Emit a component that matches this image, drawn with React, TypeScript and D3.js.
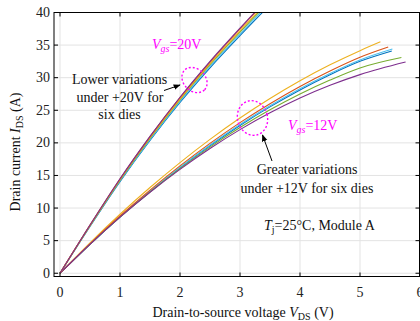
import React from "react";
import * as d3 from "d3";

// ---------- data ----------
const xTicks = [0, 1, 2, 3, 4, 5, 6];
const yTicks = [0, 5, 10, 15, 20, 25, 30, 35, 40];

const dieColors = ["#0072BD", "#4DBEEE", "#77AC30", "#EDB120", "#D95319", "#7E2F8E"];

// Vgs = 20 V
const vGrid20 = [0, 0.5, 1, 1.5, 2, 2.5, 3, 3.5];
const i20Blue = [0, 7.18, 14.06, 20.37, 26.2, 31.52, 36.45, 41.2];
const i20LightBlue = [0, 7.22, 14.15, 20.5, 26.36, 31.72, 36.7, 41.5];
const i20Green = [0, 7.28, 14.27, 20.68, 26.6, 32.0, 37.0, 41.8];
const i20Yellow = [0, 7.32, 14.35, 20.78, 26.72, 32.15, 37.2, 42.05];
const i20Orange = [0, 7.38, 14.45, 20.95, 26.93, 32.4, 37.5, 42.4];
const i20Purple = [0, 7.4, 14.5, 21.0, 27.0, 32.5, 37.6, 42.5];

// Vgs = 12 V
const vGrid12 = [0, 0.5, 1, 1.5, 2, 2.5, 3, 3.5, 4, 4.5, 5];
const i12Blue = [0, 4.44, 8.62, 12.52, 16.17, 19.55, 22.67, 25.52, 28.12, 30.45, 32.51];
const i12LightBlue = [0, 4.46, 8.67, 12.6, 16.27, 19.68, 22.81, 25.68, 28.3, 30.64, 32.72];
const i12Green = [0, 4.45, 8.61, 12.47, 16.05, 19.35, 22.35, 25.07, 27.5, 29.64, 31.5];
const i12Yellow = [0, 4.66, 9.05, 13.15, 16.98, 20.54, 23.81, 26.81, 29.54, 31.98, 34.15];
const i12Orange = [0, 4.52, 8.78, 12.76, 16.47, 19.92, 23.1, 26.01, 28.65, 31.02, 33.13];
const i12Purple = [0, 4.45, 8.6, 12.42, 15.94, 19.14, 22.03, 24.61, 26.88, 28.83, 30.47];
const endV12 = [5.53, 5.54, 5.69, 5.34, 5.47, 5.76];
const endI12 = [34.1, 34.4, 33.1, 35.5, 34.7, 32.4];

const series20 = [i20Blue, i20LightBlue, i20Green, i20Yellow, i20Orange, i20Purple];
const series12 = [i12Blue, i12LightBlue, i12Green, i12Yellow, i12Orange, i12Purple];

// ---------- layout ----------
const W = 420;
const H = 321;
const left = 54;
const right = 419.5;
const top = 12.5;
const bottom = 276.5;

const FONT = "'Liberation Serif', 'Times New Roman', serif";
const MAG = "#FF00FF";

export default function App() {
  const x = d3.scaleLinear().domain([-0.1, 6]).range([54, 420]);
  const y = d3.scaleLinear().domain([-0.5, 40]).range([bottom, top]);

  const line = d3
    .line<[number, number]>()
    .x((d) => x(d[0]))
    .y((d) => y(d[1]))
    .curve(d3.curveMonotoneX);

  const pts20 = series20.map((arr) => arr.map((v, i) => [vGrid20[i], v] as [number, number]));
  const pts12 = series12.map((arr, k) => {
    const p = arr.map((v, i) => [vGrid12[i], v] as [number, number]);
    p.push([endV12[k], endI12[k]]);
    return p;
  });

  const tickLen = 4;

  return (
    <svg
      width={W}
      height={H}
      style={{ position: "absolute", left: 0, top: 0, background: "#fff" }}
      fontFamily={FONT}
    >
      <defs>
        <clipPath id="plotclip">
          <rect x={left} y={top} width={right - left} height={bottom - top} />
        </clipPath>
        <marker id="arrowhead" viewBox="0 0 10 10" refX="9" refY="5" markerWidth="7" markerHeight="7" orient="auto-start-reverse">
          <path d="M0,1 L10,5 L0,9 z" fill="#000" />
        </marker>
      </defs>
      <rect x={0} y={0} width={W} height={H} fill="#fff" />

      {/* grid */}
      <g stroke="#e3e3e3" strokeWidth={1}>
        {xTicks.map((t) => (
          <line key={"gx" + t} x1={x(t)} x2={x(t)} y1={top} y2={bottom} />
        ))}
        {yTicks.map((t) => (
          <line key={"gy" + t} x1={left} x2={right} y1={y(t)} y2={y(t)} />
        ))}
      </g>

      {/* curves */}
      <g clipPath="url(#plotclip)" fill="none" strokeWidth={1.1}>
        {pts12.map((p, k) => (
          <path key={"c12" + k} d={line(p) || ""} stroke={dieColors[k]} />
        ))}
        {pts20.map((p, k) => (
          <path key={"c20" + k} d={line(p) || ""} stroke={dieColors[k]} />
        ))}
      </g>

      {/* frame & ticks */}
      <g stroke="#000" strokeWidth={1} fill="none">
        <rect x={left} y={top} width={right - left} height={bottom - top} />
        {xTicks.map((t) => (
          <g key={"tx" + t}>
            <line x1={x(t)} x2={x(t)} y1={bottom} y2={bottom - tickLen} />
            <line x1={x(t)} x2={x(t)} y1={top} y2={top + tickLen} />
          </g>
        ))}
        {yTicks.map((t) => (
          <g key={"ty" + t}>
            <line x1={left} x2={left + tickLen} y1={y(t)} y2={y(t)} />
            <line x1={right} x2={right - tickLen} y1={y(t)} y2={y(t)} />
          </g>
        ))}
      </g>

      {/* tick labels */}
      <g fontSize={14} fill="#222">
        {xTicks.map((t) => (
          <text key={"lx" + t} x={x(t)} y={297} textAnchor="middle">
            {t}
          </text>
        ))}
        {yTicks.map((t) => (
          <text key={"ly" + t} x={50} y={y(t)} dy="0.33em" textAnchor="end">
            {t}
          </text>
        ))}
      </g>

      {/* axis titles */}
      <text x={243} y={317} fontSize={14} textAnchor="middle" fill="#111">
        Drain-to-source voltage <tspan fontStyle="italic">V</tspan>
        <tspan fontSize={10} dy={3}>DS</tspan>
        <tspan dy={-3}> (V)</tspan>
      </text>
      <text transform="translate(20,152) rotate(-90)" fontSize={14} textAnchor="middle" fill="#111">
        Drain current <tspan fontStyle="italic">I</tspan>
        <tspan fontSize={10} dy={3}>DS</tspan>
        <tspan dy={-3}> (A)</tspan>
      </text>

      {/* annotations */}
      <text x={152} y={48.5} fontSize={14} fill={MAG}>
        <tspan fontStyle="italic">V</tspan>
        <tspan fontSize={10} fontStyle="italic" dy={3}>gs</tspan>
        <tspan dy={-3}>=20V</tspan>
      </text>
      <text x={288} y={130} fontSize={14} fill={MAG}>
        <tspan fontStyle="italic">V</tspan>
        <tspan fontSize={10} fontStyle="italic" dy={3}>gs</tspan>
        <tspan dy={-3}>=12V</tspan>
      </text>

      <ellipse cx={194.5} cy={80} rx={14} ry={11} transform="rotate(45,194.5,80)" fill="none" stroke={MAG} strokeWidth={1.4} strokeDasharray="2,2" />
      <ellipse cx={252.5} cy={118} rx={15} ry={17.5} transform="rotate(-15,252.5,118)" fill="none" stroke={MAG} strokeWidth={1.4} strokeDasharray="2,2" />

      <line x1={164} x2={180} y1={90.5} y2={85} stroke="#000" strokeWidth={1} markerEnd="url(#arrowhead)" />
      <line x1={272} x2={262.5} y1={161} y2={135} stroke="#000" strokeWidth={1} markerEnd="url(#arrowhead)" />

      <g fontSize={14} fill="#111" textAnchor="middle">
        <text x={119.5} y={84}>Lower variations</text>
        <text x={120} y={101.5}>under +20V for</text>
        <text x={119.5} y={119}>six dies</text>
        <text x={307} y={173.5}>Greater variations</text>
        <text x={307} y={192.5}>under +12V for six dies</text>
      </g>
      <text x={264} y={229.5} fontSize={14} fill="#111">
        <tspan fontStyle="italic">T</tspan>
        <tspan fontSize={10} dy={3}>j</tspan>
        <tspan dy={-3}>=25°C, Module A</tspan>
      </text>
    </svg>
  );
}
